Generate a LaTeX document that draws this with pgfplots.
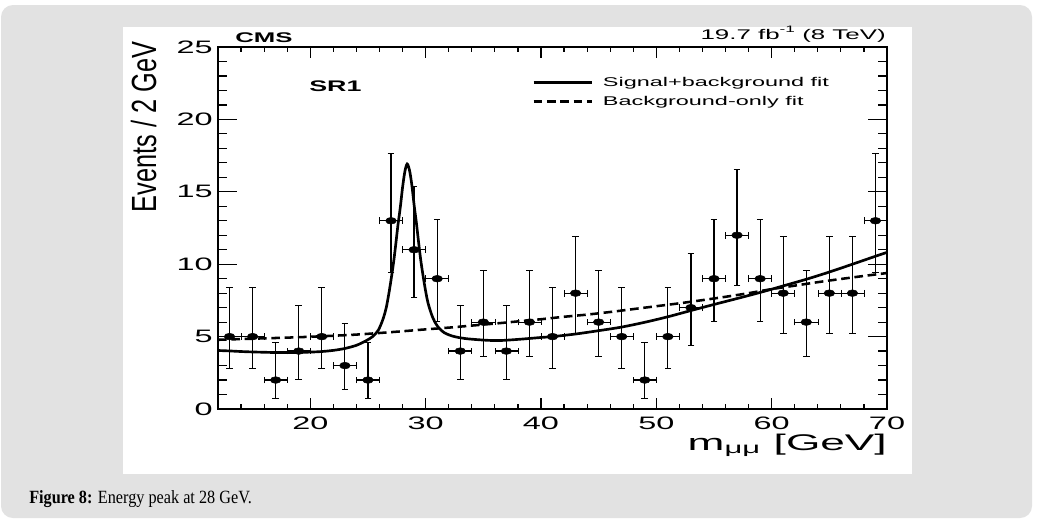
\documentclass[border=0pt]{standalone}
\usepackage{pgfplots}
\pgfplotsset{compat=1.18}
\usepackage{fontspec}
\setmainfont{Liberation Sans}
\newfontfamily\capfont{Liberation Serif}
\usepackage{graphicx}
\definecolor{pagegray}{HTML}{E2E2E2}

\begin{document}
\begin{tikzpicture}
\begin{scope}[x=0.75pt,y=-0.75pt]
\useasboundingbox (0,0) rectangle (1037,526);
\fill[white] (0,0) rectangle (1037,526);
\fill[pagegray, rounded corners=9pt] (1,5) rectangle (1032,518);
\fill[white] (123,27) rectangle (912,474);
\end{scope}

% ---------- axis with data and x ticks ----------
\begin{axis}[
  at={(163.5pt,-306.75pt)}, anchor=south west,
  scale only axis, width=501.75pt, height=271.5pt,
  xmin=12, xmax=70, ymin=0, ymax=25,
  xtick={20,30,40,50,60,70},
  minor xtick={12,14,...,70},
  ytick=\empty,
  major tick length=8.25pt, minor tick length=4pt,
  tick style={line width=0.9pt, black},
  axis line style={line width=1.3pt},
  /pgf/number format/assume math mode=true,
  xticklabel={\scalebox{1.8}[1]{\pgfmathprintnumber{\tick}}},
  xticklabel style={font=\fontsize{13.5}{15}\selectfont, anchor=north, inner sep=0pt, yshift=-5.5pt},
  legend style={draw=none, fill=none, at={(0.4694,0.918)}, anchor=north west,
    inner sep=0pt, row sep=6pt, column sep=7.5pt,
    font=\fontsize{9.5}{11}\selectfont, nodes={inner sep=0pt}},
  legend cell align=left,
  legend image code/.code={\draw[#1] (0pt,0pt) -- (43.5pt,0pt);},
]
% Signal + background fit
\addplot[black, line width=2pt, smooth, tension=0.5] coordinates {
(12,4.04) (13,4.01) (14,3.97) (15,3.94) (16,3.92) (17,3.90) (18,3.90) (19,3.91)
(20,3.93) (21,3.97) (22,4.05) (23,4.18) (24,4.40) (24.8,4.70) (25.4,5.00)
(25.9,5.45) (26.3,6.20) (26.6,7.05) (26.9,8.40) (27.2,10.0) (27.4,11.3)
(27.6,12.7) (27.8,13.9) (28.0,15.3) (28.2,16.4) (28.4,16.92) (28.6,16.5)
(28.8,15.5) (29.0,14.1) (29.2,12.85) (29.4,11.45) (29.6,10.15) (29.9,8.6)
(30.2,7.35) (30.6,6.35) (31.0,5.75) (31.6,5.28) (32.4,5.02) (33.4,4.87)
(34.5,4.79) (35.5,4.74) (36.5,4.73) (38.2,4.82) (40,4.94) (41,5.0) (43,5.18)
(45,5.41) (47,5.66) (49,5.99) (51,6.37) (53,6.80) (55,7.22) (57,7.63)
(59,8.05) (61,8.50) (63,8.96) (65,9.46) (67,10.0) (69,10.55) (70,10.82)
};
\addlegendentry{\scalebox{1.85}[1]{Signal+background fit}}
% Background-only fit
\addplot[black, line width=1.9pt, dash pattern=on 6.5pt off 3.5pt, smooth] coordinates {
(12,4.78) (14,4.83) (16,4.88) (18,4.93) (20,4.99) (22,5.06) (24,5.14) (26,5.25)
(28,5.37) (30,5.50) (32,5.62) (34,5.76) (36,5.90) (38,6.05) (40,6.20) (42,6.37)
(44,6.52) (46,6.70) (48,6.90) (50,7.10) (52,7.30) (54,7.52) (56,7.75) (58,8.00)
(60,8.28) (62,8.52) (64,8.76) (66,8.98) (68,9.19) (70,9.39)
};
\addlegendentry{\scalebox{1.85}[1]{Background-only fit}}
% Data
\addplot[forget plot, black, only marks, mark=*, mark size=2.5pt, mark options={xscale=1.6},
  error bars/.cd, x dir=both, x explicit, y dir=both, y explicit,
  error bar style={line width=0.9pt, black}] coordinates {
(13,5) += (1,3.382) -= (1,2.160)
(15,5) += (1,3.382) -= (1,2.160)
(17,2) += (1,2.638) -= (1,1.291)
(19,4) += (1,3.163) -= (1,1.914)
(21,5) += (1,3.382) -= (1,2.160)
(23,3) += (1,2.918) -= (1,1.633)
(25,2) += (1,2.638) -= (1,1.291)
(27,13) += (1,4.680) -= (1,3.580)
(29,11) += (1,4.410) -= (1,3.274)
(31,9) += (1,4.110) -= (1,2.943)
(33,4) += (1,3.163) -= (1,1.914)
(35,6) += (1,3.584) -= (1,2.380)
(37,4) += (1,3.163) -= (1,1.914)
(39,6) += (1,3.584) -= (1,2.380)
(41,5) += (1,3.382) -= (1,2.160)
(43,8) += (1,3.950) -= (1,2.768)
(45,6) += (1,3.584) -= (1,2.380)
(47,5) += (1,3.382) -= (1,2.160)
(49,2) += (1,2.638) -= (1,1.291)
(51,5) += (1,3.382) -= (1,2.160)
(53,7) += (1,3.770) -= (1,2.581)
(55,9) += (1,4.110) -= (1,2.943)
(57,12) += (1,4.550) -= (1,3.429)
(59,9) += (1,4.110) -= (1,2.943)
(61,8) += (1,3.950) -= (1,2.768)
(63,6) += (1,3.584) -= (1,2.380)
(65,8) += (1,3.950) -= (1,2.768)
(67,8) += (1,3.950) -= (1,2.768)
(69,13) += (1,4.680) -= (1,3.580)
};
\end{axis}

% ---------- overlay axis for y ticks ----------
\begin{axis}[
  at={(163.5pt,-306.75pt)}, anchor=south west,
  scale only axis, width=501.75pt, height=271.5pt,
  xmin=12, xmax=70, ymin=0, ymax=25,
  xtick=\empty,
  ytick={0,5,...,25},
  minor ytick={0,1,...,25},
  major tick length=14.25pt, minor tick length=7pt,
  tick style={line width=0.9pt, black},
  axis line style={line width=1.3pt},
  /pgf/number format/assume math mode=true,
  yticklabel={\scalebox{1.8}[1]{\pgfmathprintnumber{\tick}}},
  yticklabel style={font=\fontsize{13.5}{15}\selectfont, anchor=east, inner sep=0pt, xshift=-3.75pt},
]
\end{axis}

\begin{scope}[x=0.75pt,y=-0.75pt]
\node[anchor=base west, inner sep=0pt] at (235,42.7)
  {\scalebox{1.84}[1]{\fontsize{10.5}{12}\selectfont\bfseries CMS}};
\node[anchor=base east, inner sep=0pt] at (886,39)
  {\scalebox{1.85}[1]{\fontsize{10.5}{12}\selectfont 19.7 fb\raisebox{0.45em}{\fontsize{7}{8}\selectfont -1} (8 TeV)}};
\node[anchor=base west, inner sep=0pt] at (309,91)
  {\scalebox{1.75}[1]{\fontsize{11.5}{13}\selectfont\bfseries SR1}};
\node[anchor=base, rotate=90, inner sep=0pt] at (156,127)
  {\scalebox{1}[1.38]{\fontsize{19}{22}\selectfont Events / 2 GeV}};
\node[anchor=base east, inner sep=0pt] at (887,450)
  {\scalebox{1.95}[1]{\fontsize{17}{20}\selectfont m\textsubscript{μμ} [GeV]}};
\node[anchor=base west, inner sep=0pt] at (29,503)
  {\resizebox{167pt}{\height}{\capfont\fontsize{14}{16}\selectfont\textbf{Figure 8:} Energy peak at 28 GeV.}};
\end{scope}
\end{tikzpicture}
\end{document}
